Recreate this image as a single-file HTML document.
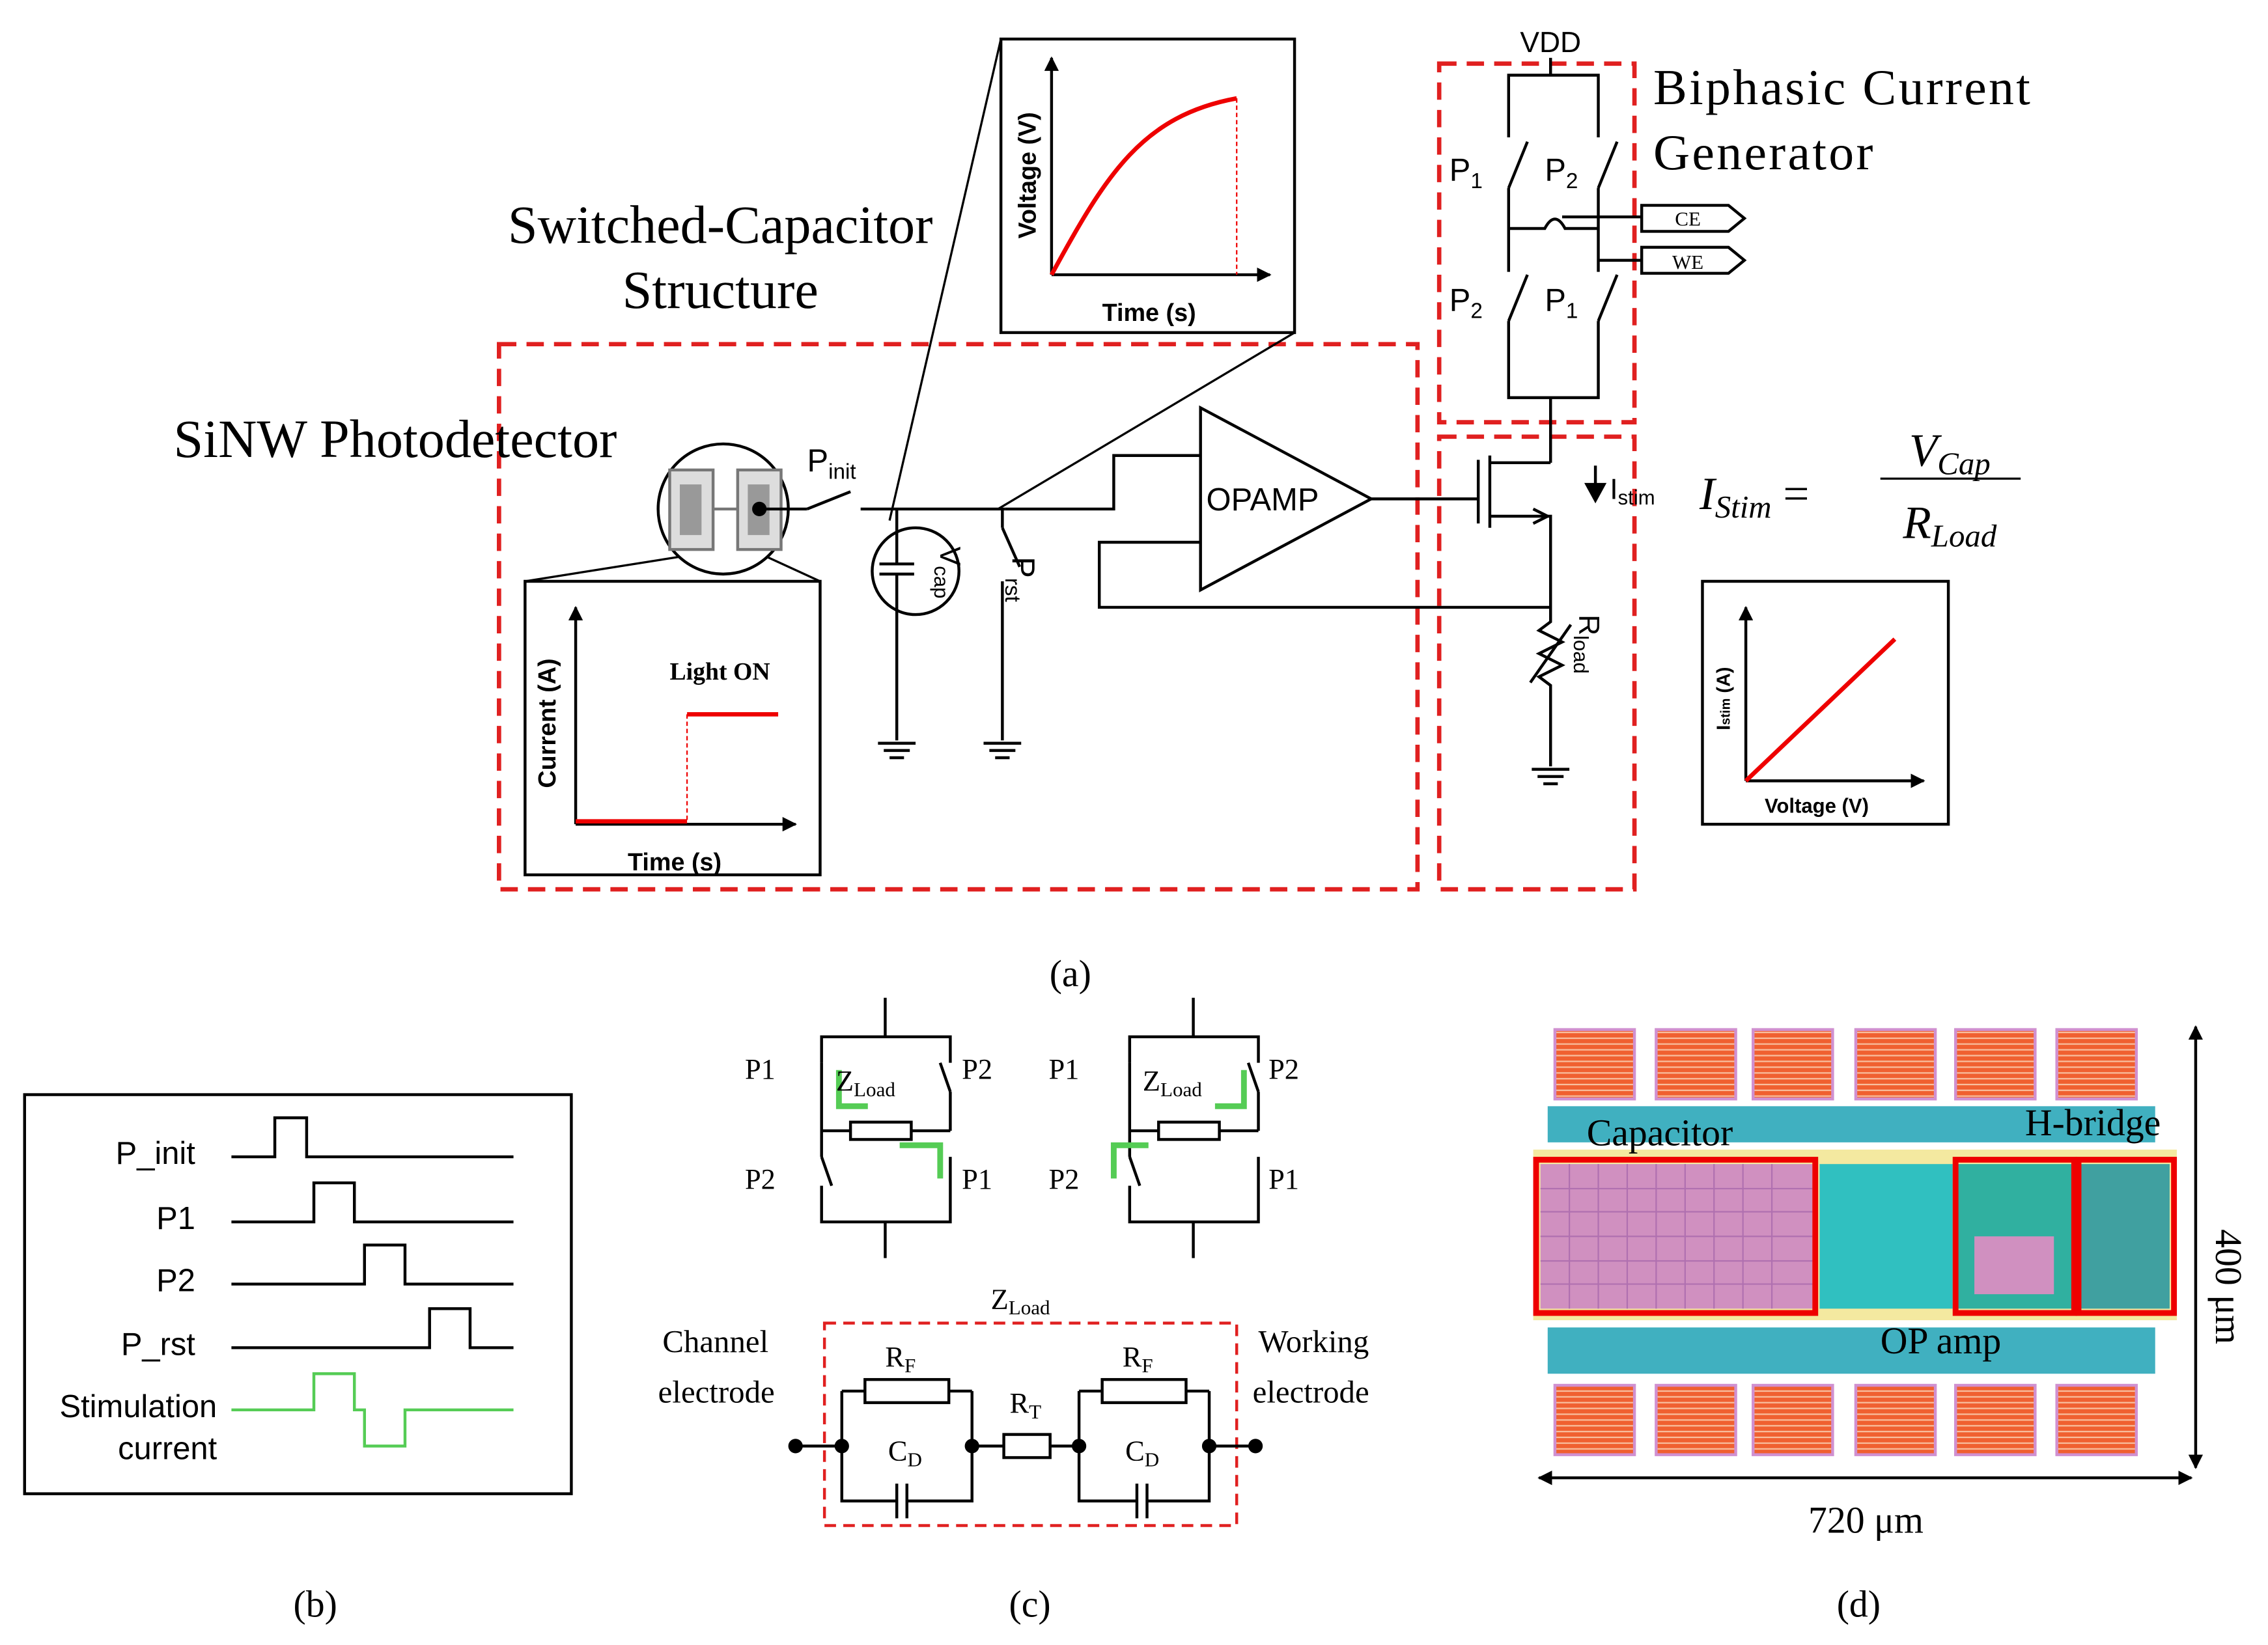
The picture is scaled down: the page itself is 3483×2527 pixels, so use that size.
<!DOCTYPE html>
<html><head><meta charset="utf-8"><style>html,body{margin:0;padding:0;background:#fff}svg{display:block}
.s{font-family:"Liberation Serif",serif}.a{font-family:"Liberation Sans",sans-serif}</style></head>
<body>
<svg width="3483" height="2527" viewBox="0 0 1568 1137.6" preserveAspectRatio="none" xmlns="http://www.w3.org/2000/svg">
<defs>
<marker id="ar" markerWidth="10" markerHeight="10" refX="9" refY="5" orient="auto" markerUnits="userSpaceOnUse"><path d="M0,0 L10,5 L0,10 z" fill="#000"/></marker>
<marker id="ar2" markerWidth="10" markerHeight="10" refX="1" refY="5" orient="auto" markerUnits="userSpaceOnUse"><path d="M10,0 L0,5 L10,10 z" fill="#000"/></marker>
<g id="gnd"><line x1="-13" y1="0" x2="13" y2="0"/><line x1="-9" y1="5" x2="9" y2="5"/><line x1="-5" y1="10" x2="5" y2="10"/></g>
<pattern id="hatch" width="4" height="4" patternUnits="userSpaceOnUse"><rect width="4" height="4" fill="#f06030"/><line x1="0" y1="2" x2="4" y2="2" stroke="#f8c0a0" stroke-width="1"/></pattern>
</defs>
<rect width="1568" height="1138" fill="#fff"/>
<g fill="none" stroke="#000" stroke-width="2">
<g stroke="#e02020" stroke-width="3" stroke-dasharray="12,7">
<rect x="345" y="238" width="635" height="377"/>
<rect x="995" y="44" width="135" height="248"/>
<rect x="995" y="302" width="135" height="313"/>
</g>
<line x1="1072" y1="40" x2="1072" y2="52"/>
<polyline points="1043,95 1043,52 1105,52 1105,95"/>
<line x1="1043" y1="130" x2="1056" y2="98"/><line x1="1105" y1="130" x2="1118" y2="98"/>
<line x1="1043" y1="130" x2="1043" y2="188"/><line x1="1105" y1="130" x2="1105" y2="188"/>
<path d="M1043,158 L1068,158 Q1075,145 1082,158 L1105,158"/>
<line x1="1043" y1="222" x2="1056" y2="190"/><line x1="1105" y1="222" x2="1118" y2="190"/>
<polyline points="1043,222 1043,275 1105,275 1105,222"/>
<line x1="1080" y1="150" x2="1135" y2="150"/><line x1="1105" y1="180" x2="1135" y2="180"/>
<path d="M1135,142 L1195,142 L1206,151 L1195,160 L1135,160 z"/>
<path d="M1135,171 L1195,171 L1206,180 L1195,189 L1135,189 z"/>
<line x1="1072" y1="275" x2="1072" y2="320"/>
<line x1="1022" y1="318" x2="1022" y2="362"/><line x1="1030" y1="315" x2="1030" y2="365"/>
<polyline points="1030,320 1072,320"/><polyline points="1030,357 1072,357 1072,420"/>
<path d="M1060,352 L1070,357 L1060,362" />
<line x1="948" y1="345" x2="1022" y2="345"/>
<line x1="1103" y1="322" x2="1103" y2="340"/>
<path d="M1097,335 L1103,346 L1109,335 z" fill="#000"/>
<path d="M830,282 L830,408 L948,345 z"/>
<polyline points="695,352 770,352 770,315 830,315"/>
<polyline points="1072,420 760,420 760,375 830,375"/>
<polyline points="1072,420 1072,430 1064,436 1080,444 1064,452 1080,460 1064,468 1072,474 1072,530"/>
<line x1="1058" y1="472" x2="1086" y2="432"/>
<use href="#gnd" x="1072" y="532"/>
<circle cx="500" cy="352" r="45"/>
<rect x="463" y="325" width="30" height="55" fill="#ddd" stroke="#777"/>
<rect x="510" y="325" width="30" height="55" fill="#ddd" stroke="#777"/>
<rect x="470" y="335" width="15" height="35" fill="#999" stroke="none"/>
<rect x="517" y="335" width="15" height="35" fill="#999" stroke="none"/>
<line x1="493" y1="352" x2="510" y2="352" stroke="#777"/>
<circle cx="525" cy="352" r="4" fill="#000"/>
<line x1="525" y1="352" x2="558" y2="352"/><line x1="558" y1="352" x2="588" y2="340"/>
<line x1="595" y1="352" x2="695" y2="352"/>
<circle cx="633" cy="395" r="30"/>
<line x1="620" y1="352" x2="620" y2="390"/><line x1="608" y1="390" x2="632" y2="390"/><line x1="608" y1="397" x2="632" y2="397"/>
<line x1="620" y1="397" x2="620" y2="512"/><use href="#gnd" x="620" y="514"/>
<line x1="693" y1="352" x2="693" y2="365"/><line x1="693" y1="365" x2="705" y2="392"/>
<line x1="693" y1="402" x2="693" y2="512"/><use href="#gnd" x="693" y="514"/>
<line x1="692" y1="27" x2="615" y2="360" stroke-width="1.5"/>
<line x1="895" y1="230" x2="690" y2="352" stroke-width="1.5"/>
<line x1="470" y1="385" x2="363" y2="402" stroke-width="1.5"/>
<line x1="530" y1="385" x2="567" y2="402" stroke-width="1.5"/>
<rect x="692" y="27" width="203" height="203" fill="#fff"/>
<line x1="727" y1="190" x2="727" y2="40" marker-end="url(#ar)"/>
<line x1="727" y1="190" x2="878" y2="190" marker-end="url(#ar)"/>
<path d="M727,190 C765,120 790,80 855,68" stroke="#e00" stroke-width="3"/>
<line x1="855" y1="68" x2="855" y2="190" stroke="#e00" stroke-width="1" stroke-dasharray="3,2"/>
<rect x="363" y="402" width="204" height="203" fill="#fff"/>
<line x1="398" y1="570" x2="398" y2="420" marker-end="url(#ar)"/>
<line x1="398" y1="570" x2="550" y2="570" marker-end="url(#ar)"/>
<polyline points="398,568 475,568" stroke="#e00" stroke-width="3"/>
<line x1="475" y1="494" x2="538" y2="494" stroke="#e00" stroke-width="3"/>
<line x1="475" y1="494" x2="475" y2="568" stroke="#e00" stroke-width="1" stroke-dasharray="3,2"/>
<rect x="1177" y="402" width="170" height="168"/>
<line x1="1207" y1="540" x2="1207" y2="420" marker-end="url(#ar)"/>
<line x1="1207" y1="540" x2="1330" y2="540" marker-end="url(#ar)"/>
<line x1="1207" y1="540" x2="1310" y2="442" stroke="#e00" stroke-width="3"/>
<line x1="1300" y1="331" x2="1397" y2="331" stroke-width="1.5"/>
<rect x="17" y="757" width="378" height="276"/>
<polyline points="160,800 190,800 190,773 212,773 212,800 355,800"/>
<polyline points="160,845 217,845 217,818 245,818 245,845 355,845"/>
<polyline points="160,888 252,888 252,861 280,861 280,888 355,888"/>
<polyline points="160,932 297,932 297,905 325,905 325,932 355,932"/>
<polyline points="160,975 217,975 217,950 245,950 245,975 252,975 252,1000 280,1000 280,975 355,975" stroke="#5c5"/>
<g id="hb">
<line x1="612" y1="690" x2="612" y2="717"/>
<polyline points="568,735 568,717 657,717 657,735"/>
<line x1="568" y1="735" x2="568" y2="800"/><line x1="657" y1="755" x2="657" y2="782"/><line x1="657" y1="755" x2="650" y2="735"/>
<line x1="568" y1="782" x2="588" y2="782"/><rect x="588" y="776" width="42" height="12"/><line x1="630" y1="782" x2="657" y2="782"/>
<line x1="568" y1="800" x2="575" y2="820"/><polyline points="568,820 568,845 657,845 657,800"/>
<line x1="612" y1="845" x2="612" y2="870"/>
</g>
<use href="#hb" x="213"/>
<path d="M580,740 L580,765 L600,765" stroke="#5c5" stroke-width="4"/>
<path d="M622,792 L650,792 L650,815" stroke="#5c5" stroke-width="4"/>
<path d="M860,740 L860,765 L840,765" stroke="#5c5" stroke-width="4"/>
<path d="M794,792 L770,792 L770,815" stroke="#5c5" stroke-width="4"/>
<rect x="570" y="915" width="285" height="140" stroke="#e02020" stroke-dasharray="8,5"/>
<line x1="550" y1="1000" x2="582" y2="1000"/><circle cx="550" cy="1000" r="4" fill="#000"/><circle cx="582" cy="1000" r="4" fill="#000"/>
<polyline points="582,962 582,1038 620,1038"/><line x1="620" y1="1026" x2="620" y2="1050"/><line x1="627" y1="1026" x2="627" y2="1050"/><polyline points="627,1038 672,1038 672,962"/>
<line x1="582" y1="962" x2="598" y2="962"/><rect x="598" y="954" width="58" height="16"/><line x1="656" y1="962" x2="672" y2="962"/>
<circle cx="672" cy="1000" r="4" fill="#000"/><line x1="672" y1="1000" x2="694" y2="1000"/><rect x="694" y="992" width="32" height="16"/><line x1="726" y1="1000" x2="746" y2="1000"/>
<circle cx="746" cy="1000" r="4" fill="#000"/>
<polyline points="746,962 746,1038 786,1038"/><line x1="786" y1="1026" x2="786" y2="1050"/><line x1="793" y1="1026" x2="793" y2="1050"/><polyline points="793,1038 836,1038 836,962"/>
<line x1="746" y1="962" x2="762" y2="962"/><rect x="762" y="954" width="58" height="16"/><line x1="820" y1="962" x2="836" y2="962"/>
<line x1="836" y1="1000" x2="868" y2="1000"/><circle cx="836" cy="1000" r="4" fill="#000"/><circle cx="868" cy="1000" r="4" fill="#000"/>
<rect x="1060" y="795" width="445" height="118" fill="#f4e9a0" stroke="none"/>
<g stroke="#d090d0" stroke-width="2" fill="url(#hatch)">
<rect x="1075" y="712" width="55" height="48"/><rect x="1145" y="712" width="55" height="48"/><rect x="1212" y="712" width="55" height="48"/><rect x="1283" y="712" width="55" height="48"/><rect x="1352" y="712" width="55" height="48"/><rect x="1422" y="712" width="55" height="48"/>
<rect x="1075" y="958" width="55" height="48"/><rect x="1145" y="958" width="55" height="48"/><rect x="1212" y="958" width="55" height="48"/><rect x="1283" y="958" width="55" height="48"/><rect x="1352" y="958" width="55" height="48"/><rect x="1422" y="958" width="55" height="48"/>
</g>
<g stroke="none">
<rect x="1070" y="765" width="420" height="25" fill="#40b0c0"/>
<rect x="1070" y="918" width="420" height="32" fill="#40b0c0"/>
<rect x="1065" y="805" width="188" height="100" fill="#d090c0"/>
<rect x="1258" y="805" width="92" height="100" fill="#30c0c0"/>
<rect x="1353" y="805" width="80" height="100" fill="#30b0a0"/>
<rect x="1438" y="805" width="62" height="100" fill="#40a0a0"/>
<rect x="1365" y="855" width="55" height="40" fill="#d090c0"/>
</g>
<g stroke="#b070b0" stroke-width="1">
<path d="M1065,822H1253M1065,838H1253M1065,855H1253M1065,872H1253M1065,888H1253M1085,805V905M1105,805V905M1125,805V905M1145,805V905M1165,805V905M1185,805V905M1205,805V905M1225,805V905"/>
</g>
<g stroke="#e00" stroke-width="4"><rect x="1062" y="802" width="193" height="106"/><rect x="1352" y="802" width="82" height="106"/><rect x="1437" y="802" width="66" height="106"/></g>
<line x1="1518" y1="710" x2="1518" y2="1015" marker-end="url(#ar)" marker-start="url(#ar2)"/>
<line x1="1064" y1="1022" x2="1515" y2="1022" marker-end="url(#ar)" marker-start="url(#ar2)"/>
</g>
<g fill="#000">
<text x="1072" y="36" class="a" font-size="20" text-anchor="middle">VDD</text>
<text x="1143" y="72" class="s" font-size="35" letter-spacing="1.5">Biphasic Current</text>
<text x="1143" y="117" class="s" font-size="35" letter-spacing="1.5">Generator</text>
<text x="498" y="168" class="s" font-size="37" text-anchor="middle">Switched-Capacitor</text>
<text x="498" y="213" class="s" font-size="37" text-anchor="middle">Structure</text>
<text x="120" y="316" class="s" font-size="37">SiNW Photodetector</text>
<text x="1002" y="125" class="a" font-size="22">P<tspan font-size="15" dy="5">1</tspan></text>
<text x="1068" y="125" class="a" font-size="22">P<tspan font-size="15" dy="5">2</tspan></text>
<text x="1002" y="215" class="a" font-size="22">P<tspan font-size="15" dy="5">2</tspan></text>
<text x="1068" y="215" class="a" font-size="22">P<tspan font-size="15" dy="5">1</tspan></text>
<text x="1158" y="156" class="s" font-size="14">CE</text>
<text x="1156" y="186" class="s" font-size="14">WE</text>
<text x="834" y="353" class="a" font-size="22">OPAMP</text>
<text x="1113" y="345" class="a" font-size="20">I<tspan font-size="14" dy="4">stim</tspan></text>
<text x="558" y="326" class="a" font-size="22">P<tspan font-size="15" dy="5">init</tspan></text>
<text transform="translate(700,385) rotate(90)" class="a" font-size="22">P<tspan font-size="15" dy="5">rst</tspan></text>
<text transform="translate(650,378) rotate(90)" class="a" font-size="20">V<tspan font-size="14" dy="4">cap</tspan></text>
<text transform="translate(1092,425) rotate(90)" class="a" font-size="20">R<tspan font-size="14" dy="4">load</tspan></text>
<text x="1175" y="352" class="s" font-size="32" font-style="italic">I<tspan font-size="22" dy="6">Stim</tspan><tspan dy="-6" font-style="normal"> =</tspan></text>
<text x="1348" y="322" class="s" font-size="32" font-style="italic" text-anchor="middle">V<tspan font-size="22" dy="6">Cap</tspan></text>
<text x="1348" y="372" class="s" font-size="32" font-style="italic" text-anchor="middle">R<tspan font-size="22" dy="6">Load</tspan></text>
<text transform="translate(716,165) rotate(-90)" class="a" font-size="17" font-weight="bold">Voltage (V)</text>
<text x="762" y="222" class="a" font-size="17" font-weight="bold">Time (s)</text>
<text transform="translate(384,545) rotate(-90)" class="a" font-size="17" font-weight="bold">Current (A)</text>
<text x="434" y="602" class="a" font-size="17" font-weight="bold">Time (s)</text>
<text x="463" y="470" class="s" font-size="17" font-weight="bold">Light ON</text>
<text transform="translate(1196,505) rotate(-90)" class="a" font-size="13" font-weight="bold">I<tspan font-size="9">stim</tspan> (A)</text>
<text x="1220" y="562" class="a" font-size="14" font-weight="bold">Voltage (V)</text>
<text x="740" y="682" class="s" font-size="26" text-anchor="middle">(a)</text>
<text x="218" y="1118" class="s" font-size="26" text-anchor="middle">(b)</text>
<text x="712" y="1118" class="s" font-size="26" text-anchor="middle">(c)</text>
<text x="1285" y="1118" class="s" font-size="26" text-anchor="middle">(d)</text>
<g class="a" font-size="22" text-anchor="end">
<text x="135" y="805">P_init</text><text x="135" y="850">P1</text><text x="135" y="893">P2</text><text x="135" y="937">P_rst</text>
<text x="150" y="980">Stimulation</text><text x="150" y="1009">current</text></g>
<g class="s" font-size="20">
<text x="515" y="746">P1</text><text x="665" y="746">P2</text><text x="515" y="822">P2</text><text x="665" y="822">P1</text>
<text x="578" y="754" font-size="20">Z<tspan font-size="14" dy="4">Load</tspan></text>
<text x="725" y="746">P1</text><text x="877" y="746">P2</text><text x="725" y="822">P2</text><text x="877" y="822">P1</text>
<text x="790" y="754" font-size="20">Z<tspan font-size="14" dy="4">Load</tspan></text>
<text x="685" y="905">Z<tspan font-size="14" dy="4">Load</tspan></text>
<text x="458" y="935" font-size="22">Channel</text><text x="455" y="970" font-size="22">electrode</text>
<text x="870" y="935" font-size="22">Working</text><text x="866" y="970" font-size="22">electrode</text>
<text x="612" y="945">R<tspan font-size="14" dy="4">F</tspan></text>
<text x="776" y="945">R<tspan font-size="14" dy="4">F</tspan></text>
<text x="698" y="977">R<tspan font-size="14" dy="4">T</tspan></text>
<text x="614" y="1010">C<tspan font-size="14" dy="4">D</tspan></text>
<text x="778" y="1010">C<tspan font-size="14" dy="4">D</tspan></text>
</g>
<g class="s" font-size="26">
<text x="1097" y="792">Capacitor</text>
<text x="1400" y="785">H-bridge</text>
<text x="1300" y="936">OP amp</text>
<text x="1290" y="1060" text-anchor="middle">720 μm</text>
<text transform="translate(1532,850) rotate(90)">400 μm</text>
</g>
</g>
</svg>
</body></html>
